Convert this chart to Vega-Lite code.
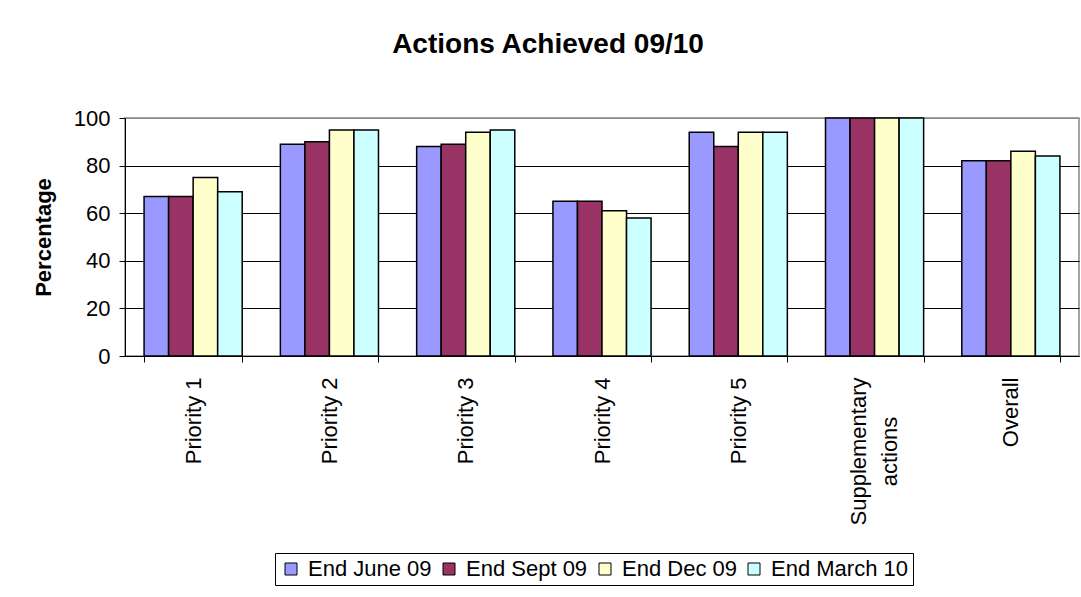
{
  "$schema": "https://vega.github.io/schema/vega-lite/v6.json",
  "width": 954,
  "height": 238,
  "autosize": "none",
  "padding": {"left": 125, "top": 118, "right": 2, "bottom": 241},
  "background": "white",
  "title": {
    "text": "Actions Achieved 09/10",
    "font": "Liberation Sans",
    "fontSize": 28,
    "fontWeight": "bold",
    "color": "black",
    "anchor": "middle",
    "dx": -54,
    "offset": 48
  },
  "data": {
    "values": [
      {"category": "Priority 1", "period": "End June 09", "value": 67},
      {"category": "Priority 1", "period": "End Sept 09", "value": 67},
      {"category": "Priority 1", "period": "End Dec 09", "value": 75},
      {"category": "Priority 1", "period": "End March 10", "value": 69},
      {"category": "Priority 2", "period": "End June 09", "value": 89},
      {"category": "Priority 2", "period": "End Sept 09", "value": 90},
      {"category": "Priority 2", "period": "End Dec 09", "value": 95},
      {"category": "Priority 2", "period": "End March 10", "value": 95},
      {"category": "Priority 3", "period": "End June 09", "value": 88},
      {"category": "Priority 3", "period": "End Sept 09", "value": 89},
      {"category": "Priority 3", "period": "End Dec 09", "value": 94},
      {"category": "Priority 3", "period": "End March 10", "value": 95},
      {"category": "Priority 4", "period": "End June 09", "value": 65},
      {"category": "Priority 4", "period": "End Sept 09", "value": 65},
      {"category": "Priority 4", "period": "End Dec 09", "value": 61},
      {"category": "Priority 4", "period": "End March 10", "value": 58},
      {"category": "Priority 5", "period": "End June 09", "value": 94},
      {"category": "Priority 5", "period": "End Sept 09", "value": 88},
      {"category": "Priority 5", "period": "End Dec 09", "value": 94},
      {"category": "Priority 5", "period": "End March 10", "value": 94},
      {"category": "Supplementary actions", "period": "End June 09", "value": 100},
      {"category": "Supplementary actions", "period": "End Sept 09", "value": 100},
      {"category": "Supplementary actions", "period": "End Dec 09", "value": 100},
      {"category": "Supplementary actions", "period": "End March 10", "value": 100},
      {"category": "Overall", "period": "End June 09", "value": 82},
      {"category": "Overall", "period": "End Sept 09", "value": 82},
      {"category": "Overall", "period": "End Dec 09", "value": 86},
      {"category": "Overall", "period": "End March 10", "value": 84}
    ]
  },
  "mark": {"type": "bar", "stroke": "black", "strokeWidth": 1.5},
  "encoding": {
    "x": {
      "field": "category",
      "type": "nominal",
      "sort": null,
      "scale": {"paddingInner": 0.28, "paddingOuter": 0.14},
      "axis": {
        "title": null,
        "labelAngle": -90,
        "labelAlign": {"condition": {"test": "datum.value == 'Supplementary actions'", "value": "center"}, "value": "right"},
        "labelBaseline": "middle",
        "labelFont": "Liberation Sans",
        "labelFontSize": 22,
        "labelColor": "black",
        "labelPadding": {"condition": {"test": "datum.value == 'Supplementary actions'", "value": 89}, "value": 15},
        "labelOffset": {"condition": {"test": "datum.value == 'Supplementary actions'", "value": -16}, "value": 0},
        "labelLineHeight": 31,
        "labelExpr": "datum.value == 'Supplementary actions' ? ['Supplementary', 'actions'] : datum.label",
        "labelOverlap": false,
        "tickBand": "extent",
        "tickColor": "black",
        "tickSize": 6,
        "domainColor": "black",
        "grid": false
      }
    },
    "xOffset": {
      "field": "period",
      "type": "nominal",
      "sort": ["End June 09", "End Sept 09", "End Dec 09", "End March 10"],
      "scale": {"paddingInner": 0, "paddingOuter": 0}
    },
    "y": {
      "field": "value",
      "type": "quantitative",
      "scale": {"domain": [0, 100], "nice": false},
      "axis": {
        "title": "Percentage",
        "titleFont": "Liberation Sans",
        "titleFontSize": 22,
        "titleFontWeight": "bold",
        "titleColor": "black",
        "titlePadding": 18,
        "values": [0, 20, 40, 60, 80, 100],
        "labelFont": "Liberation Sans",
        "labelFontSize": 22,
        "labelColor": "black",
        "labelPadding": 9,
        "tickColor": "black",
        "tickSize": 6,
        "domainColor": "black",
        "grid": true,
        "gridColor": {"condition": {"test": "datum.value == 100", "value": "#888888"}, "value": "#000000"},
        "gridWidth": 1
      }
    },
    "color": {
      "field": "period",
      "type": "nominal",
      "sort": ["End June 09", "End Sept 09", "End Dec 09", "End March 10"],
      "scale": {
        "domain": ["End June 09", "End Sept 09", "End Dec 09", "End March 10"],
        "range": ["#9999FF", "#993366", "#FFFFCC", "#CCFFFF"]
      },
      "legend": {
        "title": null,
        "orient": "none",
        "legendX": 150,
        "legendY": 435,
        "direction": "horizontal",
        "strokeColor": "black",
        "padding": 5,
        "labelFont": "Liberation Sans",
        "labelFontSize": 22,
        "labelColor": "black",
        "labelOffset": 6,
        "columnPadding": 6,
        "symbolType": "square",
        "symbolSize": 144,
        "symbolStrokeColor": "black",
        "symbolStrokeWidth": 1
      }
    }
  },
  "config": {
    "view": {"stroke": "#888888", "strokeWidth": 1.5}
  }
}
